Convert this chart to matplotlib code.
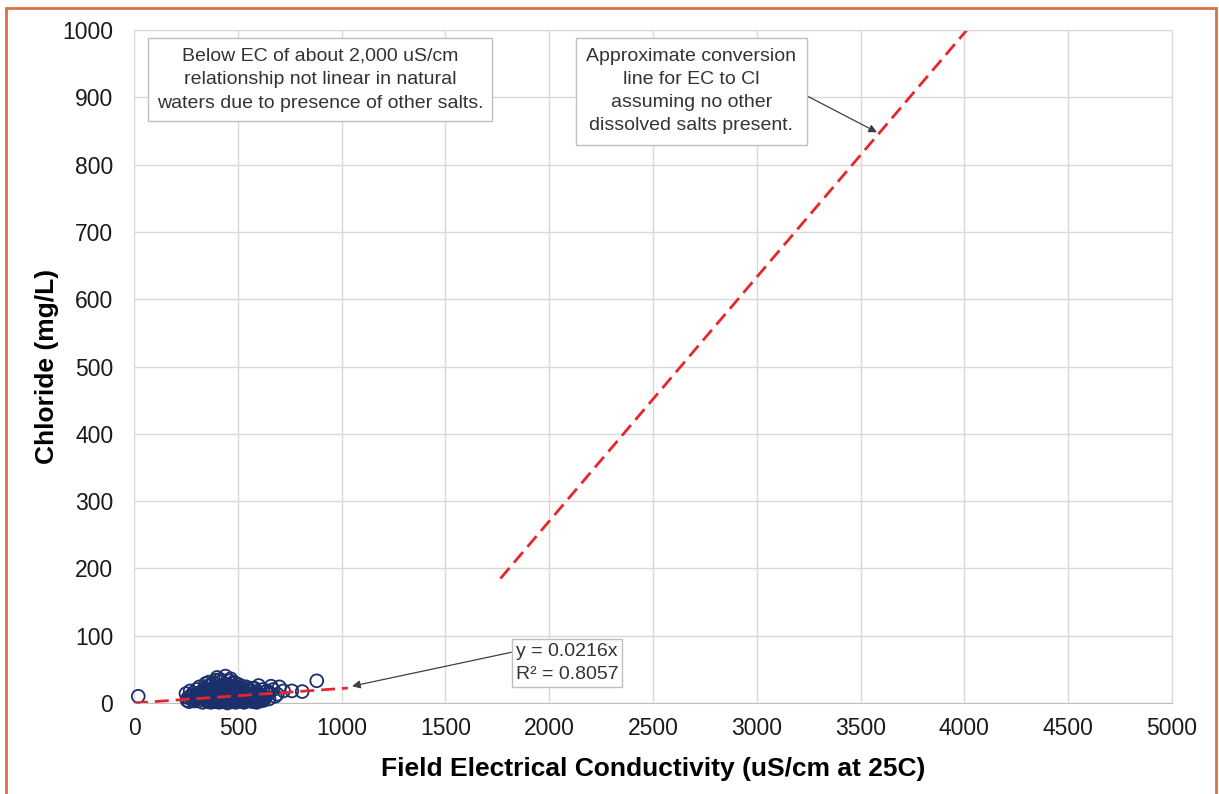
import numpy as np
import matplotlib
matplotlib.use("Agg")
import matplotlib.pyplot as plt
from matplotlib.patches import Rectangle

plt.rcParams["font.family"] = ["Liberation Sans", "DejaVu Sans"]

# field EC (uS/cm) vs chloride (mg/L)
ec = [20, 880, 810, 760, 700, 660, 640, 620, 600, 580,
      250, 260, 270, 280, 290, 300, 310, 320, 330, 340,
      350, 360, 370, 380, 390, 400, 410, 420, 430, 440,
      450, 460, 470, 480, 490, 500, 510, 520, 530, 540,
      550, 560, 570, 590, 610, 630, 650, 670, 690, 720,
      255, 275, 295, 315, 335, 355, 375, 395, 415, 435,
      455, 475, 495, 515, 535, 555, 575, 595, 615, 635,
      380, 400, 420, 440, 460, 480, 500, 520, 540, 560,
      300, 330, 360, 390, 420, 450, 480, 510, 540, 570,
      395, 425, 455, 485, 345, 365, 405, 445, 465, 505,
      265, 285, 305, 325, 345, 365, 385, 405, 425, 445,
      465, 485, 505, 525, 545, 565, 585, 605, 625, 645,
      330, 340, 350, 360, 370, 380, 390, 400, 410, 420,
      430, 440, 450, 460, 470, 480, 490, 500, 510, 520,
      530, 540, 550, 560, 570, 580, 590, 600, 610, 620,
      335, 355, 375, 395, 415, 435, 455, 475, 495, 515,
      535, 555, 575, 595, 615, 310, 290, 270, 650, 680,
      360, 390, 420, 450, 480, 510, 540, 440, 470, 500]
cl = [10, 33, 17, 18, 24, 25, 18, 20, 26, 22,
      14, 8, 18, 5, 12, 20, 3, 15, 9, 22,
      6, 18, 11, 30, 4, 38, 14, 26, 7, 40,
      16, 33, 5, 21, 12, 28, 9, 19, 3, 24,
      14, 10, 22, 17, 12, 8, 15, 20, 13, 18,
      4, 11, 7, 24, 13, 2, 27, 9, 35, 19,
      6, 25, 15, 11, 8, 20, 5, 14, 9, 17,
      22, 16, 3, 28, 10, 31, 6, 25, 12, 18,
      10, 16, 26, 18, 12, 22, 14, 8, 20, 12,
      34, 19, 26, 17, 29, 9, 7, 12, 36, 23,
      2, 15, 9, 17, 4, 12, 6, 21, 11, 2,
      14, 8, 3, 16, 6, 12, 9, 11, 4, 13,
      1, 8, 3, 12, 1, 7, 2, 10, 1, 5,
      2, 9, 0, 7, 2, 11, 1, 6, 3, 9,
      1, 6, 3, 8, 2, 5, 1, 7, 3, 6,
      14, 18, 5, 14, 19, 4, 9, 13, 20, 6,
      16, 4, 13, 3, 5, 7, 3, 9, 6, 10,
      31, 23, 32, 27, 24, 21, 15, 20, 29, 17]

# trendline through origin
trend_x = [0, 1030]
trend_slope = 0.0216

# approximate conversion line EC -> Cl
conv_x = [1765, 4012]
conv_y = [185, 1000]

fig = plt.figure(figsize=(12.19, 7.94), dpi=100)
ax = fig.add_axes([0.110, 0.1146, 0.8514, 0.8476])

ax.scatter(ec, cl, s=85, facecolors="none", edgecolors="#1a2f6b", lw=1.3,
           zorder=3, clip_on=False)
ax.plot(trend_x, [trend_slope * v for v in trend_x], "--", color="#e8262a",
        lw=2, dashes=(5, 2.5), zorder=4)
ax.plot(conv_x, conv_y, "--", color="#e8262a", lw=2, dashes=(5, 2.5), zorder=2)

ax.set_xlim(0, 5000)
ax.set_ylim(0, 1000)
ax.set_xticks(np.arange(0, 5001, 500))
ax.set_yticks(np.arange(0, 1001, 100))
ax.grid(True, color="#d9d9d9", lw=1)
ax.set_axisbelow(True)
for s in ax.spines.values():
    s.set_color("#d9d9d9")
ax.spines["bottom"].set_color("#bfbfbf")
ax.tick_params(length=0, labelsize=16.5, labelcolor="#1a1a1a")
ax.tick_params(axis="y", pad=15)
ax.tick_params(axis="x", pad=10)
ax.set_xlabel("Field Electrical Conductivity (uS/cm at 25C)", fontsize=19,
              fontweight="bold", labelpad=12)
ax.set_ylabel("Chloride (mg/L)", fontsize=19, fontweight="bold", labelpad=2)

tc = "#333333"
box = dict(boxstyle="square,pad=0.45", fc="white", ec="#bfbfbf", lw=1)
ax.text(896, 926, "Below EC of about 2,000 uS/cm\nrelationship not linear in natural\nwaters due to presence of other salts.",
        ha="center", va="center", fontsize=14, bbox=box, linespacing=1.55,
        color=tc)
ax.annotate("Approximate conversion\nline for EC to Cl\nassuming no other\ndissolved salts present.",
            xy=(3579, 848), xytext=(2685, 909), ha="center", va="center",
            fontsize=14, color=tc,
            bbox=dict(boxstyle="square,pad=0.55", fc="white", ec="#bfbfbf", lw=1),
            linespacing=1.45,
            arrowprops=dict(arrowstyle="-|>", color="#404040", lw=0.9,
                            shrinkA=0, shrinkB=0, mutation_scale=12,
                            relpos=(1.0, 0.51)))
ax.annotate("y = 0.0216x\nR² = 0.8057", xy=(1050, 25), xytext=(2086, 59),
            ha="center", va="center", fontsize=14, color=tc,
            bbox=dict(boxstyle="square,pad=0.2", fc="white", ec="#bfbfbf", lw=1),
            linespacing=1.45,
            arrowprops=dict(arrowstyle="-|>", color="#404040", lw=0.9,
                            shrinkA=0, shrinkB=0, mutation_scale=12,
                            relpos=(0, 0.8)))

fig.patches.append(Rectangle((6 / 1219, -0.05), 1210 / 1219, 1.05 - 8 / 794,
                             transform=fig.transFigure, fill=False,
                             ec="#d9704a", lw=2))

fig.savefig("out.png", dpi=100)
